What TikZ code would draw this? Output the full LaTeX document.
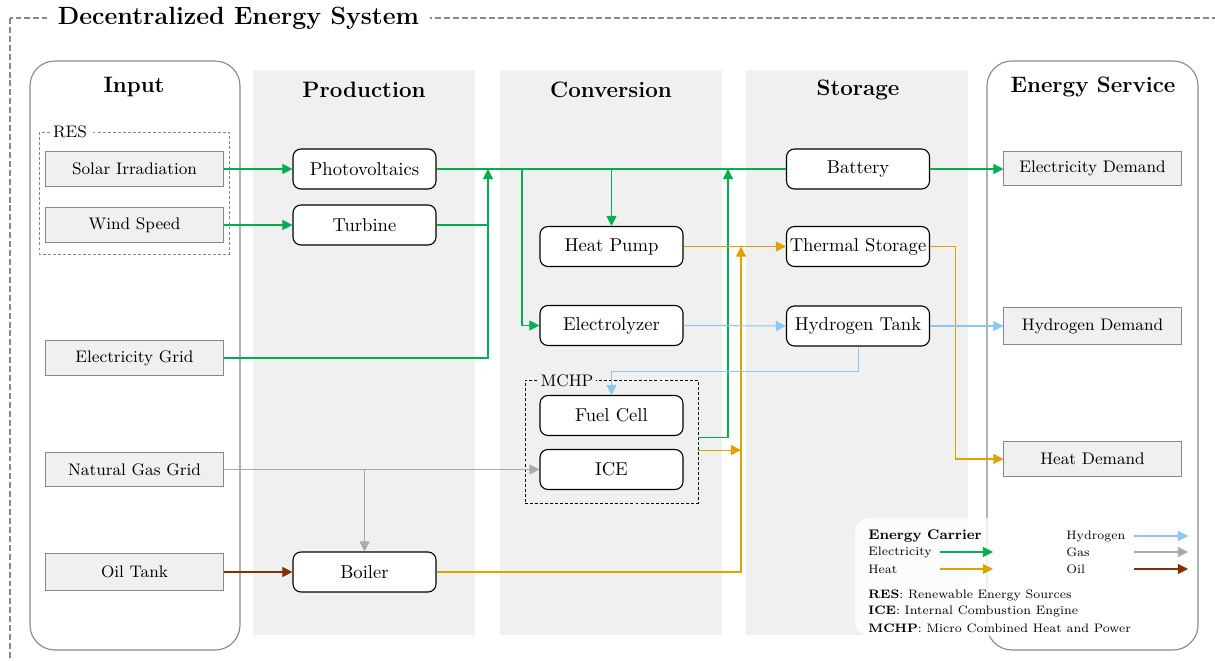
\documentclass[tikz,border=0pt]{standalone}
\usetikzlibrary{arrows.meta,calc}
\definecolor{elec}{RGB}{0,176,80}
\definecolor{heat}{RGB}{222,163,0}
\definecolor{hydro}{RGB}{140,198,242}
\definecolor{gasc}{RGB}{170,170,170}
\definecolor{oilc}{RGB}{128,51,0}
\definecolor{colbg}{RGB}{240,240,240}
\definecolor{framec}{RGB}{136,136,136}
\tikzset{
  inbox/.style={draw=framec, fill=colbg, line width=0.55pt, minimum width=95.2pt, minimum height=18.3pt, inner sep=0pt, font=\small},
  unit/.style={draw=black, fill=white, rounded corners=4.3pt, line width=0.6pt, minimum width=76.9pt, minimum height=21.5pt, inner sep=1pt},
  hdr/.style={font=\large\bfseries},
  wire/.style={line width=0.55pt},
  flow/.style={line width=0.55pt, -{Triangle[length=5.4pt,width=5.4pt]}},
  legtext/.style={anchor=west, inner sep=0pt, font=\fontsize{6.6}{8}\selectfont},
  container/.style={draw=framec, line width=0.6pt, rounded corners=13.4pt},
  fine dash/.style={dash pattern=on 1.6pt off 1.1pt, line width=0.5pt}
}
\begin{document}
\begin{tikzpicture}[x=0.5376pt,y=-0.5376pt]
\useasboundingbox (0,0) rectangle (1215,661);
\clip (0,0) rectangle (1215,661);

% outer system frame
\draw[framec, dash pattern=on 3.2pt off 1.6pt, line width=0.65pt] (10,18) rectangle (1240,700);
\node[fill=white, inner xsep=6pt, inner ysep=2pt, font=\fontsize{13.4}{16}\selectfont\bfseries] (title) at (238.5,18) {Decentralized Energy System};

% column backgrounds
\fill[colbg] (253,70) rectangle (475,635);
\fill[colbg] (500,70) rectangle (722,635);
\fill[colbg] (746,70) rectangle (968,635);

% input and service containers
\draw[container] (30,61) rectangle (240,650);
\draw[container] (987,61) rectangle (1198,650);

% headers
\node[hdr] (hIn) at (134,87) {Input};
\node[hdr] (hProd) at (364,90) {Production};
\node[hdr] (hConv) at (611,90) {Conversion};
\node[hdr] (hSto) at (858,90) {Storage};
\node[hdr] (hSvc) at (1093,87) {Energy Service};

% renewable group
\draw[framec, fine dash] (39,132) rectangle (229,254);
\node[fill=white, inner sep=1.5pt, font=\small] (reslbl) at (70,132) {RES};

% inputs
\node[inbox] (solar) at (134.5,169) {Solar Irradiation};
\node[inbox] (wind) at (134.5,225) {Wind Speed};
\node[inbox] (grid) at (134.5,358) {Electricity Grid};
\node[inbox] (ngas) at (134.5,469.5) {Natural Gas Grid};
\node[inbox, minimum height=19.4pt] (oil) at (134.5,572) {Oil Tank};

% production
\node[unit] (pv) at (364.5,169) {Photovoltaics};
\node[unit] (turb) at (364.5,225) {Turbine};
\node[unit] (boil) at (364.5,572) {Boiler};

% conversion
\node[unit] (hp) at (611.5,246.5) {Heat Pump};
\node[unit] (ely) at (611.5,325.5) {Electrolyzer};
\node[draw=black, fine dash, minimum width=93pt, minimum height=66.1pt, inner sep=0pt] (mchp) at (611.5,441.5) {};
\node[fill=colbg, inner sep=1.5pt, font=\small] (mchplbl) at (567,381) {MCHP};
\node[unit] (fc) at (611.5,415.5) {Fuel Cell};
\node[unit] (ice) at (611.5,469.5) {ICE};

% storage
\node[unit] (bat) at (858,169) {Battery};
\node[unit] (ts) at (858,246.5) {Thermal Storage};
\node[unit] (h2t) at (858,326) {Hydrogen Tank};

% energy services
\node[inbox] (edem) at (1092.5,168.5) {Electricity Demand};
\node[inbox, minimum height=19.4pt] (hdem) at (1092.5,326) {Hydrogen Demand};
\node[inbox] (heatdem) at (1092.5,459) {Heat Demand};

% junction points
\coordinate (jA) at (488,169);
\coordinate (jB) at (522,169);
\coordinate (jC) at (728,169);
\coordinate (jD) at (741,246.5);

% electricity
\draw[flow, elec] (solar.east) -- (pv.west);
\draw[flow, elec] (wind.east) -- (turb.west);
\draw[wire, elec] (pv.east) -- (bat.west);
\draw[wire, elec] (turb.east) -- (turb.east -| jA);
\draw[flow, elec] (grid.east) -| (jA);
\draw[flow, elec] (jB) |- (ely.west);
\draw[flow, elec] (hp.north |- pv.east) -- (hp.north);
\draw[flow, elec] ([yshift=1.9pt]mchp.east) -| (jC);
\draw[flow, elec] (bat.east) -- (bat.east -| edem.west);

% heat
\draw[flow, heat] (hp.east) -- (ts.west);
\draw[flow, heat] (boil.east) -| (jD);
\draw[flow, heat] ([yshift=-4.6pt]mchp.east) -- ([yshift=-4.6pt]mchp.east -| jD);
\draw[flow, heat] (ts.east) -- ++(25,0) |- (heatdem.west);

% hydrogen
\draw[flow, hydro] (ely.east) -- (h2t.west);
\draw[flow, hydro] (h2t.east) -- (hdem.west);
\draw[flow, hydro] (h2t.south) -- ++(0,25) -| (fc.north);

% gas and oil
\draw[flow, gasc] (ngas.east) -- (ice.west);
\draw[flow, gasc] (boil.north |- ngas.east) -- (boil.north);
\draw[flow, oilc] (oil.east) -- (boil.west);

% legend
\fill[white, fill opacity=0.8, rounded corners=8pt] (855,518) rectangle (1192,636);
\node[legtext, font=\fontsize{7.5}{9}\selectfont\bfseries] (lgTitle) at (868,536) {Energy Carrier};
\node[legtext] (lgEl) at (868,552) {Electricity};
\node[legtext] (lgHe) at (868,569) {Heat};
\node[legtext] (lgHy) at (1066,536) {Hydrogen};
\node[legtext] (lgGa) at (1066,552) {Gas};
\node[legtext] (lgOi) at (1066,569) {Oil};
\coordinate (aEl1) at (940,552); \coordinate (aEl2) at (993,552);
\coordinate (aHe1) at (940,569); \coordinate (aHe2) at (993,569);
\coordinate (aHy1) at (1134,536); \coordinate (aHy2) at (1188,536);
\coordinate (aGa1) at (1134,552); \coordinate (aGa2) at (1188,552);
\coordinate (aOi1) at (1134,569); \coordinate (aOi2) at (1188,569);
\draw[flow, elec] (aEl1) -- (aEl2);
\draw[flow, heat] (aHe1) -- (aHe2);
\draw[flow, hydro] (aHy1) -- (aHy2);
\draw[flow, gasc] (aGa1) -- (aGa2);
\draw[flow, oilc] (aOi1) -- (aOi2);
\node[legtext] (abRes) at (868,595) {\textbf{RES}: Renewable Energy Sources};
\node[legtext] (abIce) at (868,611) {\textbf{ICE}: Internal Combustion Engine};
\node[legtext] (abMchp) at (868,628) {\textbf{MCHP}: Micro Combined Heat and Power};
\end{tikzpicture}
\end{document}
